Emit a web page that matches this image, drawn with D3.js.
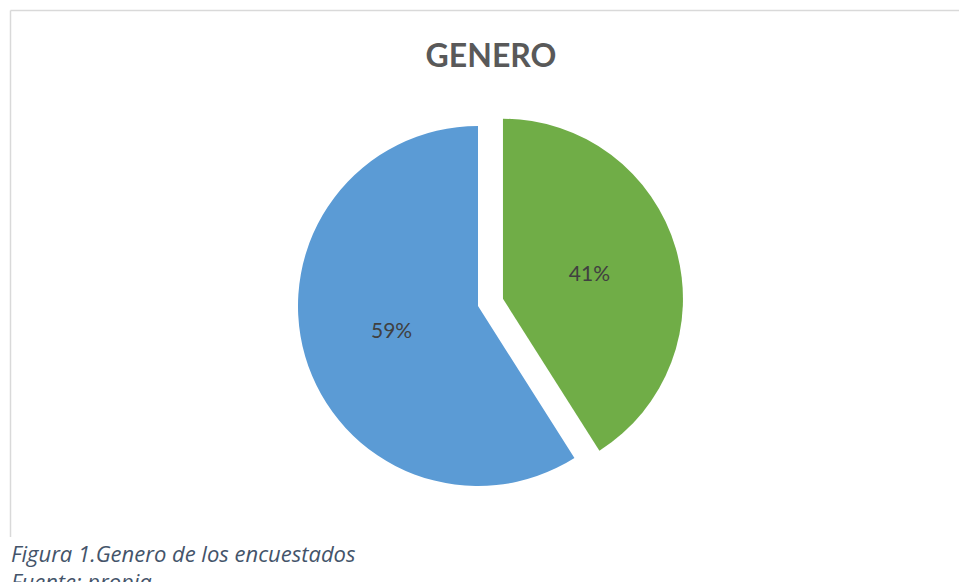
<!DOCTYPE html>
<html>
<head>
<meta charset="utf-8">
<script src="https://cdn.jsdelivr.net/npm/d3@7"></script>
<style>
  body { margin: 0; background: #fff; }
  svg { display: block; }
</style>
</head>
<body>
<div id="chart"></div>
<script>
// Data
var categories = ["Femenino", "Masculino"];
var values = [41, 59];
var labels = ["41%", "59%"];
var colors = ["#70ad47", "#5b9bd5"];

var width = 959, height = 582;

var svg = d3.select("#chart").append("svg")
  .attr("width", width)
  .attr("height", height);

// chart area border (left and top visible)
svg.append("line")
  .attr("x1", 10.5).attr("y1", 10.5).attr("x2", 10.5).attr("y2", 537)
  .style("stroke", "#d9d9d9").style("stroke-width", 1.5);
svg.append("line")
  .attr("x1", 10.5).attr("y1", 10.5).attr("x2", width).attr("y2", 10.5)
  .style("stroke", "#d9d9d9").style("stroke-width", 1.5);

// Title
svg.append("text")
  .attr("x", 491)
  .attr("y", 67)
  .attr("text-anchor", "middle")
  .style("font-family", "Lato, 'Open Sans', sans-serif")
  .style("font-weight", "bold")
  .style("font-size", "32px")
  .style("fill", "#595959")
  .text("GENERO");

var radius = 180,
  cx = 478, cy = 306,
  explode = 26;

var pie = d3.pie().sort(null).value(function(d) { return d; });
var arcs = pie(values);

var arc = d3.arc().innerRadius(0).outerRadius(radius);

var g = svg.append("g")
  .attr("transform", "translate(" + cx + "," + cy + ")");

var slices = g.selectAll(".slice")
  .data(arcs)
  .enter().append("g")
  .attr("class", "slice")
  .attr("transform", function(d, i) {
    if (i !== 0) return null;
    var a = (d.startAngle + d.endAngle) / 2;
    return "translate(" + (Math.sin(a) * explode) + "," + (-Math.cos(a) * explode) + ")";
  });

slices.append("path")
  .attr("d", arc)
  .style("fill", function(d, i) { return colors[i]; });

slices.append("text")
  .attr("transform", function(d) { return "translate(" + arc.centroid(d) + ")"; })
  .attr("dy", "0.35em")
  .attr("text-anchor", "middle")
  .style("font-family", "Lato, 'Open Sans', sans-serif")
  .style("font-size", "21px")
  .style("fill", "#404040")
  .text(function(d, i) { return labels[i]; });

// Caption
svg.append("text")
  .attr("x", 11)
  .attr("y", 562)
  .style("font-family", "'Open Sans', sans-serif")
  .style("font-style", "italic")
  .style("font-size", "22px")
  .style("fill", "#44546a")
  .text("Figura 1.Genero de los encuestados");

svg.append("text")
  .attr("x", 11)
  .attr("y", 590)
  .style("font-family", "'Open Sans', sans-serif")
  .style("font-style", "italic")
  .style("font-size", "22px")
  .style("fill", "#44546a")
  .text("Fuente: propia");
</script>
</body>
</html>
